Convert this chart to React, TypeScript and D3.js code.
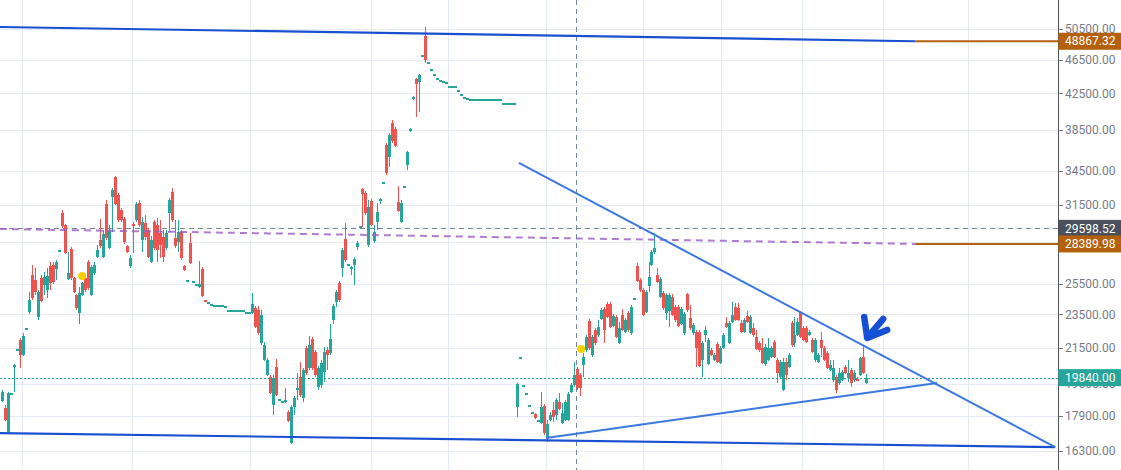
import React from 'react';
import * as d3 from 'd3';

const W = 1121;
const H = 470;
const PLOT_R = 1058;

// [open, high, low, close]
const candles: [number, number, number, number][] = [
  [18640,19200,18590,19100],[18290,18440,17670,17720],[17150,19100,17100,19040],[18990,19100,18940,19040],
  [20470,20580,19100,20520],[21370,21480,21310,21430],[21950,22070,20360,21080],[21080,22360,21020,22180],
  [22600,22720,22540,22660],[23660,24960,23530,24430],[26120,26830,24430,24560],[25780,26620,24760,24960],
  [23340,25090,23150,24960],[25910,26120,24300,24370],[25430,26340,24760,25980],[25090,26620,24560,26050],
  [26760,27040,25090,25570],[26830,27040,25500,25640],[26550,27190,25780,27040],[27860,28010,27780,27930],
  [30840,31090,29630,29790],[29870,29950,27630,27710],[25840,27780,25780,26260],[28010,28160,25780,25910],
  [25910,25980,24890,24960],[24760,24830,23790,23910],[23600,25300,22910,24890],[24760,25640,24700,25570],
  [25910,26050,24960,25090],[27040,27190,25090,25230],[24760,26830,24700,26690],[26260,27040,26120,26830],
  [27410,28310,27340,27930],[28690,30350,28080,28230],[27410,29470,27340,29150],[31600,31940,28690,28840],
  [28080,29870,28010,29470],[32190,32980,29310,32800],[33970,34060,31510,31600],[32370,32540,30110,30270],
  [31090,31260,30110,30270],[30350,30510,28380,28540],[28230,28310,27710,27780],[26760,27560,26620,27340],
  [29950,30110,27710,29790],[30270,31770,30110,31600],[31680,31940,29710,29870],[28690,30510,27780,30110],
  [30030,30680,28690,28920],[29470,29630,27340,27410],[27040,29000,26970,28690],[30110,30270,27930,28080],
  [29870,30430,27040,27930],[29230,30270,27340,28310],[28920,29470,27040,27410],[28080,29470,27930,29230],
  [30840,32110,29310,31940],[32630,32980,30110,30270],[28840,30270,28080,28230],[28540,30270,27780,29310],
  [29310,29470,27190,27340],[26760,26830,26410,26480],[25710,25840,25640,25780],[28460,29230,26900,26970],
  [25640,25780,25570,25710],[25430,25570,25360,25500],[25300,27120,25230,25500],[26550,26690,24630,24700],
  [24430,24500,24300,24370],[24300,24370,24230,24300],[24170,24230,24100,24170],[24100,24170,24040,24100],
  [24100,24170,24040,24100],[24100,24170,24040,24100],[24100,24170,24040,24100],[24040,24100,23980,24040],
  [23790,23850,23720,23790],[23790,23850,23720,23790],[23790,23850,23720,23790],[23790,23850,23720,23790],
  [23790,23850,23720,23790],[23790,23850,23720,23790],[23660,23720,23600,23660],[23660,23720,23600,23660],
  [23600,24890,23530,24170],[23910,24040,22660,22720],[23790,24040,22240,22360],[21770,23790,21650,23470],
  [20800,21830,20750,21650],[19980,20910,19930,20800],[19880,19980,18990,19040],[18440,19980,17950,19820],
  [20410,20860,18890,18940],[18690,18790,18640,18740],[18590,18690,18540,18640],[18640,19300,18540,18690],
  [18090,18190,17620,17670],[16650,18440,16610,18340],[18340,18890,17950,18790],[19200,20090,18690,19300],
  [19880,20690,18840,18940],[18790,20360,18590,20250],[21480,21600,19980,20090],[20360,22180,20250,21650],
  [22010,22120,20250,20360],[21250,21370,19880,19980],[19350,20470,19200,20360],[19450,20800,19300,20630],
  [20140,21540,19610,21250],[21370,21540,20250,21080],[21190,22910,21080,22010],[23150,24170,22910,24040],
  [24300,25090,23980,24960],[25570,25710,24300,24430],[26620,28080,25980,27930],[28770,30030,27040,27190],
  [26830,27040,26760,26900],[26620,26760,26120,26690],[26830,27410,25430,27260],[28160,28620,27930,28460],
  [29710,29870,29630,29790],[32890,32980,29710,32450],[32540,32720,30680,30840],[28310,31940,28160,31340],
  [31850,32020,29790,29870],[28620,29870,28460,29310],[30110,31680,29470,30920],[31940,32110,31600,32020],
  [33430,33610,33340,33520],[37010,37210,34150,34330],[35840,38220,34890,38010],[39260,39570,37210,37410],
  [38630,38840,36810,36910],[31770,33160,30920,31010],[30110,31940,30030,31680],[33070,33250,32980,33160],
  [35080,36420,34610,36320],[38420,38740,38320,38630],[41860,42200,41750,42090],[44170,44290,39890,43580],
  [43820,44760,40430,44640],[46980,47230,46850,47100],[49560,50770,46100,46470],[46220,46350,46100,46220],
  [45370,45490,45250,45370],[44760,44880,44640,44760],[44290,44410,44170,44290],[44050,44170,43930,44050],
  [43930,44050,43820,43930],[43820,43930,43700,43820],[43350,43460,43230,43350],[43350,43460,43230,43350],
  [43350,43460,43230,43350],[42890,43000,42770,42890],[42430,42540,42310,42430],[42090,42200,41970,42090],
  [41970,42090,41860,41970],[41860,41970,41750,41860],[41860,41970,41750,41860],[41860,41970,41750,41860],
  [41860,41970,41750,41860],[41860,41970,41750,41860],[41860,41970,41750,41860],[41860,41970,41750,41860],
  [41860,41970,41750,41860],[41860,41970,41750,41860],[41860,41970,41750,41860],[41860,41970,41750,41860],
  [41420,41530,41310,41420],[41420,41530,41310,41420],[41420,41530,41310,41420],[41420,41530,41310,41420],
  [41420,41530,41310,41420],[18340,19560,17860,19500],[20970,21080,20860,20970],[19450,19500,19400,19450],
  [19040,19090,18990,19040],[18440,18490,18390,18440],[18090,18140,18040,18090],[18000,18040,17760,17810],
  [17720,17760,17670,17720],[17570,19100,17530,18340],[18390,18490,17010,17100],[16880,17720,16700,17530],
  [17720,18090,17670,17950],[18190,18590,17620,17860],[17950,18790,17720,18690],[18590,19040,18190,18240],
  [17570,18540,17530,18040],[17720,18690,17670,18590],[17720,19100,17670,18990],[19100,19560,19040,19450],
  [19450,20690,19350,19980],[20300,20410,19200,19300],[19980,20090,18890,19300],[20520,21190,19880,20970],
  [21370,22240,21250,22120],[23090,23210,21370,21480],[21080,22240,20970,22120],[22540,22660,21650,21770],
  [22240,23150,22120,22720],[23210,23910,23150,23790],[23850,23980,21770,22540],[24170,24300,23280,23340],
  [24170,24300,22660,22720],[22790,23530,22720,23400],[23340,23470,22070,22120],[21770,23030,21710,22660],
  [23470,23850,22480,22540],[22420,23280,22360,23150],[23600,23720,22420,22540],[22360,24100,22240,23980],
  [24560,24630,24500,24560],[26760,26970,25640,25710],[25780,25910,24960,25090],[25090,25230,23400,23470],
  [23660,25090,23600,24960],[25360,27040,24960,25980],[26830,27930,26760,27780],[27780,29230,27630,28080],
  [26120,26620,25570,25640],[24630,25980,24560,25840],[24890,25030,23790,23910],[23600,24890,23150,24760],
  [23720,24890,22720,24760],[24630,24830,23400,23470],[23980,24100,23030,23150],[23980,24100,22720,22790],
  [22910,23980,22850,23850],[22360,23660,22240,23530],[24830,24890,23660,23790],[23280,24100,22540,22660],
  [22360,22970,22240,22850],[22420,22540,20410,21480],[22420,22540,20410,20470],[20800,21890,19880,21770],
  [22240,22790,21830,22540],[20580,22070,20520,21950],[21370,21480,21020,21080],[20800,21190,20750,21080],
  [21710,21830,20630,20690],[20630,21600,20580,21480],[21480,22360,21430,22240],[22970,23340,22660,22720],
  [21770,23090,21710,22970],[23030,24300,22970,23470],[23980,24230,23090,23150],[23910,24230,23090,23150],
  [22970,23150,22360,22420],[22420,23280,22360,23150],[23400,23720,22970,23030],[22360,23470,22300,23340],
  [22660,22970,22120,22240],[22120,22540,21370,21430],[21770,21890,21250,21370],[21480,22070,20580,20630],
  [20580,21710,20470,21540],[20800,22070,20750,21480],[20970,21600,20910,21480],[21830,21950,20910,20970],
  [20800,20910,19560,20090],[19880,20800,19820,20690],[19200,20910,19150,20690],[20690,20910,19720,19980],
  [20410,21190,20360,21080],[22970,23090,21540,21650],[21770,23340,21540,22240],[22240,23280,22180,23030],
  [23660,23720,22070,22120],[22660,22790,21890,21950],[22660,22790,21770,21830],[22240,22540,22180,22420],
  [21950,22070,21190,21250],[20800,22070,20690,21950],[20690,21190,20630,21080],[21950,22420,20970,21480],
  [21480,21600,20750,20800],[21190,21310,20300,20360],[20250,20800,20200,20520],[19720,20800,19610,20360],
  [19880,19980,19040,19200],[19560,20360,19450,20090],[19720,20250,19660,20140],[20410,20520,20040,20090],
  [19820,20800,19610,20090],[20250,20360,19350,19560],[19720,20250,19610,20090],[19770,19880,19660,19720],
  [19980,20970,19930,20910],[20970,21650,20040,20090],[19560,20040,19500,19840],
];

const priceTicks = [50500, 46500, 42500, 38500, 34500, 31500, 28500, 25500, 23500, 21500, 19500, 17900, 16300];
// time grid positions (in candle index units)
const timeGrid = [6.7, 43.6, 83.2, 123.9, 149.7, 182.6, 215.2, 241.4, 268.6, 295.7, 324.3];

// drawings: [index, price]
const channelTop: [number, number][] = [[-0.7, 50770], [306.5, 48867.32]];
const channelBottom: [number, number][] = [[-0.7, 17100], [353.5, 16470]];
const purpleLine: [number, number][] = [[-0.7, 29550], [306.5, 28389.98]];
const triUpper: [number, number][] = [[173.5, 35270], [353.5, 16470]];
const triLower: [number, number][] = [[182.6, 16880], [313.9, 19560]];
const markers: [number, number][] = [[26.9, 26050], [194.4, 21430]];
const arrowAnchor: [number, number] = [290.4, 22070];
const crosshair = { index: 192.7, price: 29598.52 };
const lastPrice = 19840;
const levelTop = 48867.32;
const levelMid = 28389.98;

const TEAL = '#26a69a';
const RED = '#ef5350';
const BROWN = '#b5600b';

export default function App() {
  const x = d3.scaleLinear().domain([0, 290]).range([2, 866]);
  const y = d3.scaleLog().domain([16300, 50500]).range([451, 29]);
  const line = d3.line<[number, number]>().x((d) => x(d[0])).y((d) => y(d[1]));
  const fmt = d3.format('.2f');

  const axp = x(arrowAnchor[0]);
  const ayp = y(arrowAnchor[1]);

  const labelBox = (price: number, fill: string, key: string) => {
    const cy = y(price);
    return (
      <g key={key}>
        <rect x={PLOT_R + 0.5} y={cy - 8.5} width={W - PLOT_R} height={17} fill={fill} />
        <text x={1065} y={cy} dy="0.35em" fill="#fff" fontSize={12}>{fmt(price)}</text>
      </g>
    );
  };

  return (
    <svg width={W} height={H} style={{ position: 'absolute', left: 0, top: 0 }} fontFamily="Roboto, sans-serif">
      <rect width={W} height={H} fill="#fff" />
      {/* grid */}
      <g stroke="#e4ebf2" strokeWidth={1} shapeRendering="crispEdges">
        {priceTicks.map((p) => (
          <line key={'h' + p} x1={0} x2={PLOT_R} y1={Math.round(y(p)) + 0.5} y2={Math.round(y(p)) + 0.5} />
        ))}
        {timeGrid.map((t) => (
          <line key={'v' + t} x1={Math.round(x(t)) + 0.5} x2={Math.round(x(t)) + 0.5} y1={0} y2={H} />
        ))}
      </g>
      {/* crosshair */}
      <g stroke="#758696" strokeWidth={1} strokeDasharray="5,4" shapeRendering="crispEdges">
        <line x1={0} x2={PLOT_R} y1={Math.round(y(crosshair.price)) + 0.5} y2={Math.round(y(crosshair.price)) + 0.5} />
        <line x1={Math.round(x(crosshair.index)) + 0.5} x2={Math.round(x(crosshair.index)) + 0.5} y1={0} y2={H} />
      </g>
      {/* last price dotted line */}
      <line x1={0} x2={PLOT_R} y1={Math.round(y(lastPrice)) + 0.5} y2={Math.round(y(lastPrice)) + 0.5}
        stroke={TEAL} strokeWidth={1} strokeDasharray="2,2" shapeRendering="crispEdges" />
      {/* candles */}
      <g shapeRendering="crispEdges">
        {candles.map((c, i) => {
          const [o, h, l, cl] = c;
          const cx = Math.round(x(i));
          const col = cl >= o ? TEAL : RED;
          const yo = y(o);
          const yc = y(cl);
          const top = Math.min(yo, yc);
          const bh = Math.max(Math.abs(yo - yc), 2);
          const wickLen = y(l) - y(h);
          return (
            <g key={i} fill={col}>
              {wickLen > 4 && <rect x={cx} y={y(h)} width={1} height={wickLen} />}
              <rect x={cx - 1} y={top} width={3} height={bh} />
            </g>
          );
        })}
      </g>
      {/* drawings */}
      <path d={line(purpleLine) || ''} stroke="#9b5cc4" strokeOpacity={0.8} strokeWidth={2} strokeDasharray="7,5" fill="none" />
      <path d={line(channelTop) || ''} stroke="#1a4fd0" strokeWidth={2.2} fill="none" />
      <path d={line(channelBottom) || ''} stroke="#1a4fd0" strokeWidth={2.2} fill="none" />
      <path d={line(triUpper) || ''} stroke="#3b78e0" strokeWidth={2} fill="none" />
      <path d={line(triLower) || ''} stroke="#3b78e0" strokeWidth={2} fill="none" />
      <line x1={x(channelTop[1][0])} x2={PLOT_R} y1={y(levelTop)} y2={y(levelTop)} stroke={BROWN} strokeWidth={2} />
      <line x1={x(purpleLine[1][0])} x2={PLOT_R} y1={y(levelMid)} y2={y(levelMid)} stroke={BROWN} strokeWidth={2} />
      {markers.map((m, i) => (
        <circle key={'m' + i} cx={x(m[0])} cy={y(m[1])} r={4} fill="#f7d100" />
      ))}
      <path
        d={`M${axp - 3},${ayp - 21} L${axp},${ayp} L${axp + 20},${ayp - 8} M${axp},${ayp} L${axp + 16},${ayp - 19}`}
        stroke="#1550d6" strokeWidth={6.5} strokeLinecap="round" strokeLinejoin="round" fill="none"
      />
      {/* price axis */}
      <rect x={PLOT_R} y={0} width={W - PLOT_R} height={H} fill="#fff" />
      <line x1={PLOT_R + 0.5} x2={PLOT_R + 0.5} y1={0} y2={H} stroke="#50535e" strokeWidth={1} shapeRendering="crispEdges" />
      {priceTicks.map((p) => (
        <g key={'t' + p}>
          <line x1={PLOT_R + 1} x2={PLOT_R + 5} y1={Math.round(y(p)) + 0.5} y2={Math.round(y(p)) + 0.5} stroke="#787b86" shapeRendering="crispEdges" />
          <text x={1065} y={y(p)} dy="0.35em" fill="#787b86" fontSize={12}>{fmt(p)}</text>
        </g>
      ))}
      {labelBox(levelTop, BROWN, 'lt')}
      {labelBox(crosshair.price, '#4a505c', 'ch')}
      {labelBox(levelMid, BROWN, 'lm')}
      {labelBox(lastPrice, TEAL, 'lp')}
    </svg>
  );
}
